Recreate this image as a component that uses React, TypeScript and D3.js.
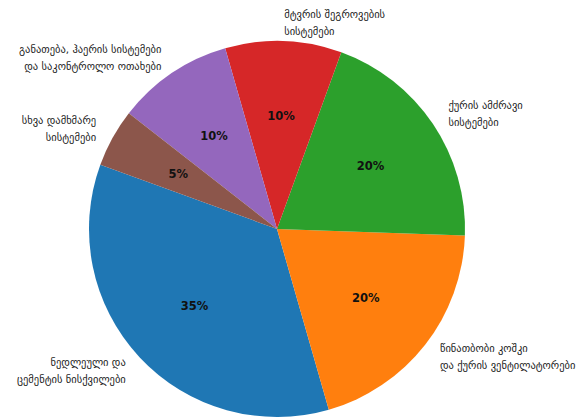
import React from "react";
import * as d3 from "d3";

const categories = [
  "ნედლეული და\nცემენტის ნისქვილები",
  "წინათბობი კოშკი\nდა ქურის ვენტილატორები",
  "ქურის ამძრავი\nსისტემები",
  "მტვრის შეგროვების\nსისტემები",
  "განათება, ჰაერის სისტემები\nდა საკონტროლო ოთახები",
  "სხვა დამხმარე\nსისტემები",
];
const values = [35, 20, 20, 10, 10, 5];
const colors = ["#1f77b4", "#ff7f0e", "#2ca02c", "#d62728", "#9467bd", "#8c564b"];

const W = 579;
const H = 419;
const cx = 277;
const cy = 229;
const R = 188;
const START_DEG = 160; // matplotlib-style startangle, counterclockwise

export default function App() {
  const toRad = (d: number) => (d * Math.PI) / 180;
  const pie = d3
    .pie<number>()
    .sort(null)
    .value((d) => d)
    .startAngle(toRad(90 - START_DEG))
    .endAngle(toRad(90 - START_DEG - 360));
  const arcs = pie(values);
  const arcGen = d3.arc<d3.PieArcDatum<number>>().innerRadius(0).outerRadius(R);
  const total = d3.sum(values);
  const lineH = 17;

  return (
    <svg
      width={W}
      height={H}
      style={{ position: "absolute", left: 0, top: 0, background: "#fff" }}
    >
      <g transform={`translate(${cx},${cy})`}>
        {arcs.map((a, i) => (
          <path key={i} d={arcGen(a) || ""} fill={colors[i]} />
        ))}
        {arcs.map((a, i) => {
          const mid = (a.startAngle + a.endAngle) / 2;
          const px = Math.sin(mid) * R * 0.6;
          const py = -Math.cos(mid) * R * 0.6;
          return (
            <text
              key={"p" + i}
              x={px}
              y={py}
              textAnchor="middle"
              dominantBaseline="central"
              fontFamily="DejaVu Sans"
              fontWeight="bold"
              fontSize={11.5}
              fill="#111"
            >
              {`${Math.round((values[i] / total) * 100)}%`}
            </text>
          );
        })}
        {arcs.map((a, i) => {
          const mid = (a.startAngle + a.endAngle) / 2;
          const lx = Math.sin(mid) * R * 1.1;
          const ly = -Math.cos(mid) * R * 1.1;
          const lines = categories[i].split("\n");
          const anchor = lx > 0 ? "start" : "end";
          const y0 = ly - ((lines.length - 1) * lineH) / 2;
          return (
            <text
              key={"l" + i}
              textAnchor={anchor}
              fontFamily="DejaVu Sans"
              fontSize={10.5}
              fill="#222"
            >
              {lines.map((ln, j) => (
                <tspan key={j} x={lx} y={y0 + j * lineH} dominantBaseline="central">
                  {ln}
                </tspan>
              ))}
            </text>
          );
        })}
      </g>
    </svg>
  );
}
